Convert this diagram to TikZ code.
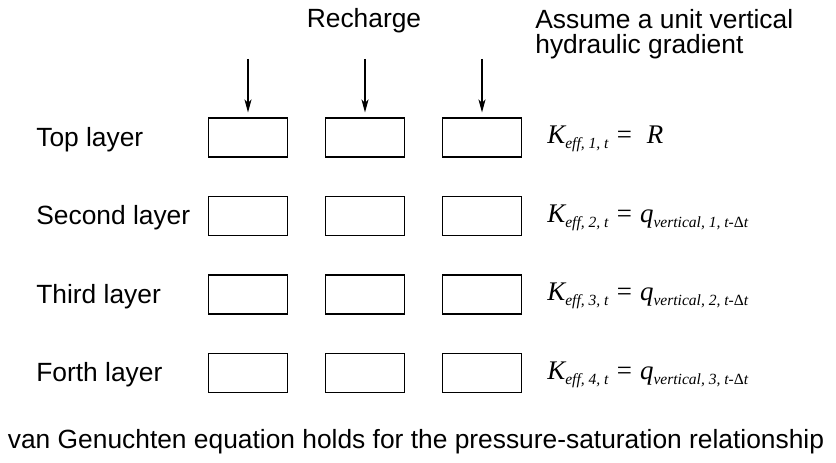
\documentclass[tikz,border=0pt]{standalone}
\usepackage{fontspec}
\setmainfont{Liberation Sans}
\newfontfamily\eqfont{Liberation Serif}
\usetikzlibrary{arrows.meta}
\newcommand{\lowsub}[1]{\raisebox{-2.7pt}{\fontsize{8.85}{9}\selectfont\itshape #1}}
\tikzset{
  cell/.style={draw, line width=0.6pt, minimum width=1.57cm, minimum height=0.78cm, inner sep=0pt},
  lbl/.style={anchor=base west, inner sep=0pt, font=\fontsize{15}{14.2}\selectfont},
  eqn/.style={anchor=base west, inner sep=0pt, font=\fontsize{15.3}{16}\selectfont\eqfont\itshape},
  recharge/.style={line width=0.75pt, -{Stealth[length=7.4pt, width=4pt, inset=2pt]}, shorten >=0.1cm}
}
\begin{document}
\begin{tikzpicture}
\useasboundingbox (0,0) rectangle (16.72,9.24);

% grid of cells, row r from top, column c from left
\foreach \r/\y in {1/6.49, 2/4.92, 3/3.35, 4/1.78}
  \foreach \c/\x in {1/4.96, 2/7.30, 3/9.64}
    \node[cell] (b\r\c) at (\x,\y) {};

\node[lbl, anchor=base] (rech) at (7.28,8.68) {Recharge};
\node[lbl, align=left, anchor=north west] (assume) at (10.70,9.06) {Assume a unit vertical\\hydraulic gradient};

\coordinate (r1) at (4.96,8.06);
\coordinate (r2) at (7.30,8.06);
\coordinate (r3) at (9.64,8.06);
\draw[recharge] (r1) -- (b11.north);
\draw[recharge] (r2) -- (b12.north);
\draw[recharge] (r3) -- (b13.north);

\node[lbl] (top) at (0.72,6.31) {Top layer};
\node[lbl] (second) at (0.72,4.74) {Second layer};
\node[lbl] (third) at (0.72,3.17) {Third layer};
\node[lbl] (forth) at (0.72,1.60) {Forth layer};

\node[eqn] (k1) at (10.94,6.36) {K\lowsub{eff, 1, t} = \ R};
\node[eqn] (k2) at (10.94,4.79) {K\lowsub{eff, 2, t} = q\lowsub{vertical, 1, t-{\upshape Δ}t}};
\node[eqn] (k3) at (10.94,3.22) {K\lowsub{eff, 3, t} = q\lowsub{vertical, 2, t-{\upshape Δ}t}};
\node[eqn] (k4) at (10.94,1.65) {K\lowsub{eff, 4, t} = q\lowsub{vertical, 3, t-{\upshape Δ}t}};

\node[lbl, anchor=base] (vg) at (8.32,0.28) {van Genuchten equation holds for the pressure-saturation relationship};
\end{tikzpicture}
\end{document}
